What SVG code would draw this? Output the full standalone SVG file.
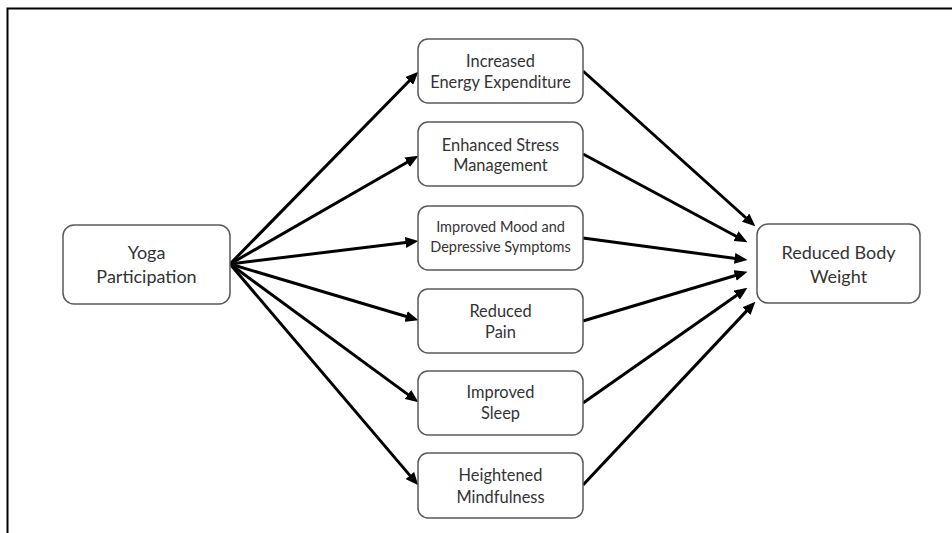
<svg xmlns="http://www.w3.org/2000/svg" width="952" height="533" viewBox="0 0 952 533">
<defs>
<marker id="ah" viewBox="0 0 13 11" refX="6.5" refY="5.5" markerWidth="13" markerHeight="11" markerUnits="userSpaceOnUse" orient="auto">
<path d="M0,0 L13,5.5 L0,11 Z" fill="#000"/>
</marker>
<style>
.box{fill:#fff;stroke:#595959;stroke-width:1.5}
.t{font-family:Lato,"Liberation Sans",sans-serif;font-size:16.4px;fill:#333;text-anchor:middle}
.ts{font-size:14.5px}
.tl{font-size:18px}
.c{stroke:#000;stroke-width:3;fill:none;marker-end:url(#ah)}
</style>
</defs>
<rect width="952" height="533" fill="#fff"/>
<path d="M7.5,533 V8.5 H952" fill="none" stroke="#000" stroke-width="2"/>
<g id="connectors">
<line class="c" x1="230" y1="264" x2="413.8" y2="76.3"/>
<line class="c" x1="230" y1="264" x2="412.8" y2="159.0"/>
<line class="c" x1="230" y1="264" x2="412.0" y2="241.7"/>
<line class="c" x1="230" y1="264" x2="412.3" y2="318.3"/>
<line class="c" x1="230" y1="264" x2="413.2" y2="398.4"/>
<line class="c" x1="230" y1="264" x2="414.1" y2="480.4"/>
<line class="c" x1="583" y1="71" x2="750.5" y2="222.0"/>
<line class="c" x1="583" y1="154" x2="741.7" y2="239.2"/>
<line class="c" x1="583" y1="238" x2="741.1" y2="259.2"/>
<line class="c" x1="583" y1="321" x2="741.3" y2="273.7"/>
<line class="c" x1="583" y1="403" x2="742.1" y2="291.4"/>
<line class="c" x1="583" y1="485" x2="750.9" y2="306.4"/>
</g>
<g id="yoga">
<rect class="box" x="63" y="225" width="167" height="79" rx="11"/>
<text class="t tl" x="146.5" y="259">Yoga</text>
<text class="t tl" x="146.5" y="283">Participation</text>
</g>
<g id="energy">
<rect class="box" x="418" y="39" width="165" height="64" rx="10"/>
<text class="t" x="500.5" y="66.5">Increased</text>
<text class="t" x="500.5" y="87.5">Energy Expenditure</text>
</g>
<g id="stress">
<rect class="box" x="418" y="122" width="165" height="64" rx="10"/>
<text class="t" x="500.5" y="150.5">Enhanced Stress</text>
<text class="t" x="500.5" y="170.5">Management</text>
</g>
<g id="mood">
<rect class="box" x="418" y="206" width="165" height="64" rx="10"/>
<text class="t ts" x="500.5" y="232">Improved Mood and</text>
<text class="t ts" x="500.5" y="252">Depressive Symptoms</text>
</g>
<g id="pain">
<rect class="box" x="418" y="289" width="165" height="64" rx="10"/>
<text class="t" x="500.5" y="316.5">Reduced</text>
<text class="t" x="500.5" y="337.5">Pain</text>
</g>
<g id="sleep">
<rect class="box" x="418" y="371" width="165" height="64" rx="10"/>
<text class="t" x="500.5" y="397.5">Improved</text>
<text class="t" x="500.5" y="418.5">Sleep</text>
</g>
<g id="mindfulness">
<rect class="box" x="418" y="453" width="165" height="65" rx="10"/>
<text class="t" x="500.5" y="480.5">Heightened</text>
<text class="t" x="500.5" y="502.5">Mindfulness</text>
</g>
<g id="weight">
<rect class="box" x="757" y="224" width="163" height="79" rx="11"/>
<text class="t tl" x="838.5" y="259">Reduced Body</text>
<text class="t tl" x="838.5" y="283">Weight</text>
</g>
</svg>
